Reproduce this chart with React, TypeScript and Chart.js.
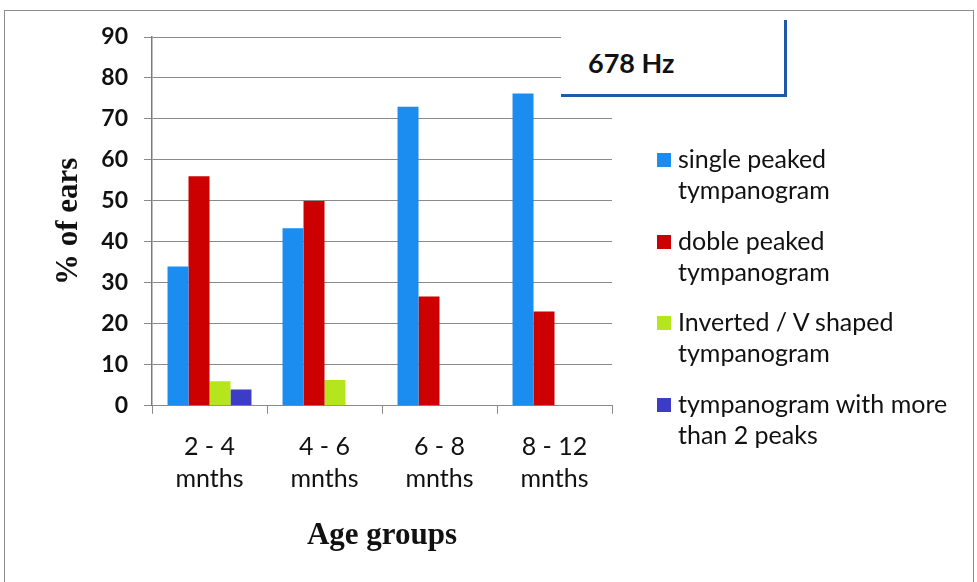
import React, { useEffect, useRef } from "react";
import { Chart, registerables } from "chart.js";
Chart.register(...registerables);

const categories: string[][] = [
  ["2 - 4", "mnths"],
  ["4 - 6", "mnths"],
  ["6 - 8", "mnths"],
  ["8 - 12", "mnths"],
];
const seriesNames = [
  "single peaked tympanogram",
  "doble peaked tympanogram",
  "Inverted / V shaped tympanogram",
  "tympanogram with more than 2 peaks",
];
const legendLines: string[][] = [
  ["single peaked", "tympanogram"],
  ["doble peaked", "tympanogram"],
  ["Inverted / V shaped", "tympanogram"],
  ["tympanogram with more", "than 2 peaks"],
];
const singlePeaked = [34, 43.3, 73, 76.2];
const doublePeaked = [56, 50, 26.7, 23];
const invertedV = [6, 6.3, 0, 0];
const morePeaks = [4, 0, 0, 0];
const colors = ["#1b8cf0", "#cc0000", "#b5e61d", "#3c3cc6"];
const yMin = 0;
const yMax = 90;
const yStep = 10;
const chartTitle = "678 Hz";
const yTitle = "% of ears";
const xTitle = "Age groups";

const sans = "Lato, 'Open Sans', sans-serif";
const serif = "'Liberation Serif', 'DejaVu Serif', serif";

export default function App() {
  const ref = useRef<HTMLCanvasElement | null>(null);
  useEffect(() => {
    document.body.style.margin = "0";
    const ctx = ref.current!;
    const series = [singlePeaked, doublePeaked, invertedV, morePeaks];
    const chart = new Chart(ctx, {
      type: "bar",
      data: {
        labels: categories,
        datasets: series.map((d, i) => ({
          label: seriesNames[i],
          data: d,
          backgroundColor: colors[i],
          borderWidth: 0,
          categoryPercentage: 0.73,
          barPercentage: 1.0,
        })),
      },
      options: {
        animation: false,
        responsive: false,
        maintainAspectRatio: false,
        layout: { padding: { left: 46, right: 365, top: 37, bottom: 23 } },
        plugins: {
          legend: { display: false },
          tooltip: { enabled: false },
          title: { display: false },
        },
        scales: {
          x: {
            grid: {
              drawOnChartArea: false,
              drawTicks: true,
              tickLength: 8,
              color: "#8a8a8a",
              offset: true,
            },
            border: { color: "#8a8a8a", width: 1 },
            ticks: {
              color: "#111",
              font: { family: sans, size: 25, lineHeight: 1.28 },
              padding: 17,
              maxRotation: 0,
            },
            title: {
              display: true,
              text: xTitle,
              color: "#111",
              font: { family: serif, size: 31, weight: "bold" },
              padding: { top: 6, bottom: 4 },
            },
          },
          y: {
            min: yMin,
            max: yMax,
            afterFit: (axis: any) => {
              axis.width = 106;
            },
            ticks: {
              stepSize: yStep,
              color: "#111",
              font: { family: sans, size: 23, weight: "bold" },
              padding: 16,
            },
            grid: {
              color: "#8a8a8a",
              lineWidth: 1,
              tickLength: 8,
              drawTicks: true,
            },
            border: { color: "#7a7a7a", width: 1.5 },
            title: {
              display: true,
              text: yTitle,
              color: "#111",
              font: { family: serif, size: 31, weight: "bold" },
              padding: { top: 4, bottom: 4 },
            },
          },
        },
      },
    });
    return () => chart.destroy();
  }, []);

  return (
    <div style={{ position: "relative", width: 977, height: 582, background: "#fff", overflow: "hidden" }}>
      <canvas ref={ref} width={977} height={582} style={{ position: "absolute", left: 0, top: 0 }} />
      <div
        style={{
          position: "absolute",
          left: 4,
          top: 10,
          width: 970,
          height: 575,
          border: "1.5px solid #8c8c8c",
          boxSizing: "border-box",
          pointerEvents: "none",
        }}
      />
      <div
        style={{
          position: "absolute",
          left: 561,
          top: 20,
          width: 223,
          height: 74,
          background: "#fff",
          borderRight: "3px solid #1f5aa6",
          borderBottom: "3px solid #1f5aa6",
        }}
      >
        <div
          style={{
            position: "absolute",
            left: 27,
            top: 28,
            fontFamily: sans,
            fontWeight: "bold",
            fontSize: 27,
            lineHeight: "30px",
            color: "#111",
            whiteSpace: "nowrap",
          }}
        >
          {chartTitle}
        </div>
      </div>
      <div style={{ position: "absolute", left: 657, top: 143 }}>
        {legendLines.map((lines, i) => (
          <div key={i} style={{ position: "relative", height: 81.7 }}>
            <div
              style={{
                position: "absolute",
                left: 0,
                top: 10,
                width: 14,
                height: 14,
                background: colors[i],
              }}
            />
            <div
              style={{
                position: "absolute",
                left: 21,
                top: 0,
                fontFamily: sans,
                fontSize: 25,
                lineHeight: "31px",
                color: "#111",
                whiteSpace: "nowrap",
              }}
            >
              {lines.map((l, j) => (
                <div key={j}>{l}</div>
              ))}
            </div>
          </div>
        ))}
      </div>
    </div>
  );
}
